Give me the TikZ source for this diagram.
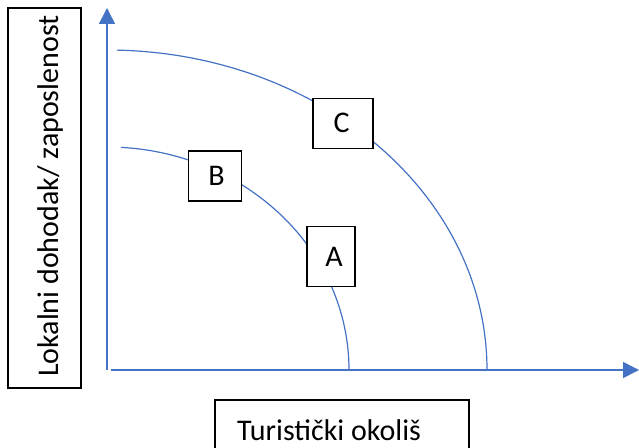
\documentclass[tikz,border=0pt]{standalone}
\usepackage{fontspec}
\setmainfont{Carlito}
\usetikzlibrary{arrows.meta}
\definecolor{officeblue}{HTML}{4472C4}
\tikzset{
  axisline/.style={draw=officeblue, line width=1.5pt, -{Triangle[length=16pt,width=16pt]}},
  curveline/.style={draw=officeblue, line width=1.2pt},
  labelbox/.style={draw=black, line width=1.2pt, fill=white, inner sep=0pt},
  bigtext/.style={font=\fontsize{30}{35}\selectfont, inner sep=0pt}
}
\begin{document}
\begin{tikzpicture}[x=1pt,y=1pt]
\useasboundingbox (0,0) rectangle (639,447);
% axes
\coordinate (O) at (107,77);
\coordinate (Ostart) at (111,77);
\coordinate (Ytip) at (107,439);
\coordinate (Xtip) at (639,77);
\draw[axisline] (O) -- (Ytip);
\draw[axisline] (Ostart) -- (Xtip);
% curves (elliptical arcs centred at the origin)
\draw[curveline] (O) ++(88.5:380 and 320) coordinate (outerstart) arc[start angle=88.5, end angle=0, x radius=380, y radius=320] coordinate (outerend);
\draw[curveline] (O) ++(86.7:242 and 223) coordinate (innerstart) arc[start angle=86.7, end angle=0, x radius=242, y radius=223] coordinate (innerend);
% boxes on curves
\node[labelbox, bigtext, minimum width=60pt, minimum height=50pt] (C) at (343,323.7) {\hspace*{-3pt}C};
\node[labelbox, bigtext, minimum width=53.4pt, minimum height=50pt] (B) at (215,271) {\hspace*{3pt}B};
\node[labelbox, bigtext, minimum width=48pt, minimum height=60.4pt] (A) at (331,190.5) {\hspace*{6pt}A};
% axis label boxes
\node[labelbox, minimum width=73pt, minimum height=380pt] (Ybox) at (44.5,249) {};
\node[bigtext, rotate=90, anchor=base west] (Ytext) at (58,70) {Lokalni dohodak/ zaposlenost};
\node[labelbox, minimum width=254pt, minimum height=62pt] (Xbox) at (342,16) {};
\node[bigtext, anchor=base west] (Xtext) at (237,7) {Turistički okoliš};
\end{tikzpicture}
\end{document}
